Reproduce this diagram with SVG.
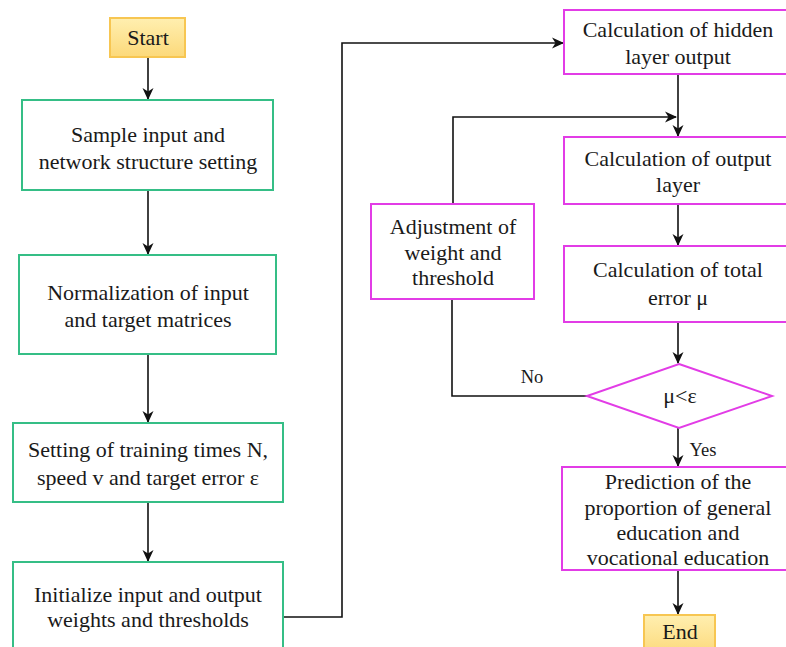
<svg xmlns="http://www.w3.org/2000/svg" width="786" height="647" viewBox="0 0 786 647">
<defs>
<marker id="ah" viewBox="0 0 12 12" refX="11" refY="6" markerWidth="12" markerHeight="12" markerUnits="userSpaceOnUse" orient="auto">
<path d="M0,0.5 L12,6 L0,11.5 L3.5,6 z" fill="#111"/>
</marker>
<linearGradient id="gold" x1="0" y1="0" x2="0" y2="1">
<stop offset="0" stop-color="#FFEFB0"/>
<stop offset="1" stop-color="#FCD97A"/>
</linearGradient>
</defs>
<style>
.g{fill:#fff;stroke:#35BE86;stroke-width:2}
.m{fill:#fff;stroke:#E23CE6;stroke-width:2}
.t{fill:url(#gold);stroke:#F7C652;stroke-width:2}
text{font-family:"Liberation Serif","Times New Roman",serif;font-size:22px;fill:#1a1a1a;text-anchor:middle}
.s{font-size:18.5px}
.c{fill:none;stroke:#111;stroke-width:1.6}
.a{marker-end:url(#ah)}
</style>
<rect width="786" height="647" fill="#fff"/>
<g id="connectors">
<path class="c a" d="M148,57 V99"/>
<path class="c a" d="M148,190 V254"/>
<path class="c a" d="M148,354 V422"/>
<path class="c a" d="M148,502 V561"/>
<path class="c a" d="M283,617 H342 V43 H563"/>
<path class="c a" d="M678,74 V136"/>
<path class="c a" d="M453,204 V117 H676"/>
<path class="c a" d="M678,204 V245"/>
<path class="c a" d="M678,322 V363"/>
<path class="c" d="M587,396 H452 V299"/>
<path class="c a" d="M678,428 V466"/>
<path class="c a" d="M678,570 V614"/>
<text class="s" x="532" y="383">No</text>
<text class="s" x="703" y="456">Yes</text>
</g>
<g id="start"><rect class="t" x="110" y="18" width="75" height="39"/><text x="148" y="45">Start</text></g>
<g id="sample"><rect class="g" x="22" y="100" width="251" height="90"/><text x="148" y="142">Sample input and</text><text x="148" y="169">network structure setting</text></g>
<g id="normalize"><rect class="g" x="19" y="255" width="257" height="99"/><text x="148" y="300">Normalization of input</text><text x="148" y="327">and target matrices</text></g>
<g id="setting"><rect class="g" x="13" y="423" width="270" height="79"/><text x="148" y="457">Setting of training times N,</text><text x="148" y="485">speed v and target error ε</text></g>
<g id="init"><rect class="g" x="13" y="562" width="270" height="95"/><text x="148" y="602">Initialize input and output</text><text x="148" y="627">weights and thresholds</text></g>
<g id="hidden"><rect class="m" x="564" y="10" width="230" height="64"/><text x="678" y="37">Calculation of hidden</text><text x="678" y="64">layer output</text></g>
<g id="output"><rect class="m" x="564" y="137" width="230" height="67"/><text x="678" y="166">Calculation of output</text><text x="678" y="192">layer</text></g>
<g id="total"><rect class="m" x="564" y="246" width="230" height="76"/><text x="678" y="277">Calculation of total</text><text x="678" y="305">error μ</text></g>
<g id="adjust"><rect class="m" x="371" y="204" width="163" height="95"/><text x="453" y="234">Adjustment of</text><text x="453" y="260">weight and</text><text x="453" y="285">threshold</text></g>
<g id="decision"><polygon class="m" points="679,364 772,396 679,428 587,396"/><text x="680" y="403">μ&lt;ε</text></g>
<g id="predict"><rect class="m" x="562" y="467" width="232" height="103"/><text x="678" y="489">Prediction of the</text><text x="678" y="515">proportion of general</text><text x="678" y="540">education and</text><text x="678" y="565">vocational education</text></g>
<g id="end"><rect class="t" x="644" y="615" width="71" height="40"/><text x="680" y="639">End</text></g>
</svg>
